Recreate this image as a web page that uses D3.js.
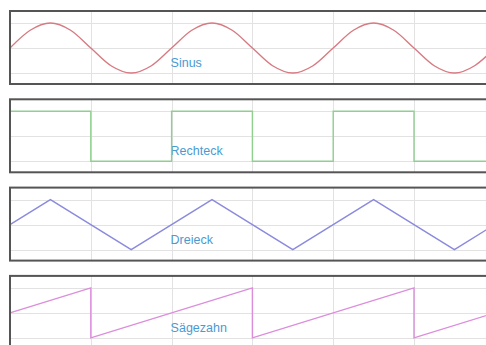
<!DOCTYPE html>
<html><head><meta charset="utf-8">
<script src="https://cdn.jsdelivr.net/npm/d3@7"></script>
<style>html,body{margin:0;padding:0;background:#fff;}svg{display:block;}</style>
</head><body>
<script>
// Series data (t in grid units, one period = 2 units; values in -1..1)
const labels = ["Sinus", "Rechteck", "Dreieck", "Sägezahn"];
const colors = ["#d77a82", "#8fd08f", "#8a8ade", "#dc8ddc"];

const sineT = [0,0.25,0.5,0.75,1,1.25,1.5,1.75,2,2.25,2.5,2.75,3,3.25,3.5,3.75,4,4.25,4.5,4.75,5,5.25,5.5,5.75,6];
const sineV = [0,0.71,1,0.71,0,-0.71,-1,-0.71,0,0.71,1,0.71,0,-0.71,-1,-0.71,0,0.71,1,0.71,0,-0.71,-1,-0.71,0];

const squareT = [0,1,1,2,2,3,3,4,4,5,5,6];
const squareV = [1,1,-1,-1,1,1,-1,-1,1,1,-1,-1];

const triT = [0,0.5,1.5,2.5,3.5,4.5,5.5,6];
const triV = [0,1,-1,1,-1,1,-1,0];

const sawT = [0,1,1,3,3,5,5,6];
const sawV = [0,1,-1,1,-1,1,-1,0];

const gridT = [1,2,3,4,5];
const gridV = [1,0,-1];

const series = [
  {t: sineT, v: sineV, curve: d3.curveCardinal},
  {t: squareT, v: squareV, curve: d3.curveLinear},
  {t: triT, v: triV, curve: d3.curveLinear},
  {t: sawT, v: sawV, curve: d3.curveLinear}
];

const W = 486, H = 345;
const svg = d3.select("body").append("svg").attr("width", W).attr("height", H);

const x = d3.scaleLinear().domain([0, 6]).range([10, 10 + 6 * 80.8]);
const panelTop = d3.scaleLinear().domain([0, 1]).range([11, 99.3]);
const panelH = 73;

series.forEach((s, i) => {
  const top = panelTop(i);
  const y = d3.scaleLinear().domain([-1, 1]).range([top + 62, top + 12]);
  const g = svg.append("g");

  // grid
  g.selectAll(".hg").data(gridV).enter().append("line")
    .attr("x1", x(0)).attr("x2", W + 10)
    .attr("y1", d => Math.round(y(d)) + 0.5).attr("y2", d => Math.round(y(d)) + 0.5)
    .attr("stroke", "#e2e2e2").attr("stroke-width", 1);
  g.selectAll(".vg").data(gridT).enter().append("line")
    .attr("x1", d => Math.round(x(d)) + 0.5).attr("x2", d => Math.round(x(d)) + 0.5)
    .attr("y1", top).attr("y2", top + panelH)
    .attr("stroke", "#e2e2e2").attr("stroke-width", 1);

  // label
  g.append("text")
    .attr("x", x(2) - 1).attr("y", y(0) + 19)
    .attr("font-family", "Liberation Sans, Arial, sans-serif")
    .attr("font-size", 12.5)
    .attr("fill", "#4a9ad2")
    .text(labels[i]);

  // line
  const pts = s.t.map((t, k) => [t, s.v[k]]);
  g.append("path")
    .attr("d", d3.line().x(d => x(d[0])).y(d => y(d[1])).curve(s.curve)(pts))
    .attr("fill", "none").attr("stroke", colors[i]).attr("stroke-width", 1.4);

  // border
  g.append("rect")
    .attr("x", x(0)).attr("y", top)
    .attr("width", W + 20).attr("height", panelH)
    .attr("fill", "none").attr("stroke", "#555").attr("stroke-width", 2);
});
</script>
</body></html>
